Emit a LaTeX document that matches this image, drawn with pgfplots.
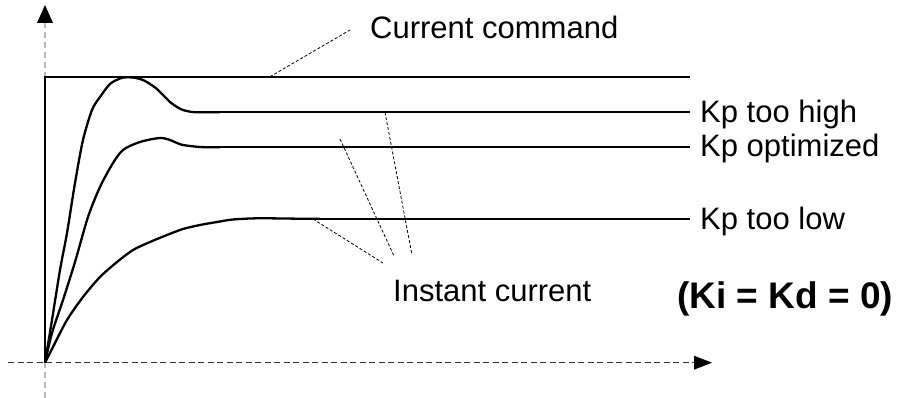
\documentclass[border=0pt]{standalone}
\usepackage{pgfplots}
\pgfplotsset{compat=1.18}
\usepackage{fontspec}
\setmainfont{Liberation Sans}
\begin{document}
\begin{tikzpicture}
\begin{axis}[
  width=901pt, height=398pt, scale only axis,
  xmin=0, xmax=901, ymin=0, ymax=398, y dir=reverse,
  hide axis, clip=false,
]
\coordinate (bl) at (axis cs:0,398);
\coordinate (tr) at (axis cs:901,0);
% axes
\draw[gray!55, line width=1.6pt, dash pattern=on 6pt off 4pt] (axis cs:45,398) -- (axis cs:45,22);
\fill[black] (axis cs:45,5) -- (axis cs:37,23) -- (axis cs:53,23) -- cycle;
\draw[black!80, line width=1.3pt, dash pattern=on 6pt off 3.5pt] (axis cs:8,362.7) -- (axis cs:695,362.7);
\fill[black] (axis cs:712,362.7) -- (axis cs:694,355.7) -- (axis cs:694,369.7) -- cycle;
% current command
\addplot[black, line width=2.3pt, line join=miter, no marks] coordinates {(45,362.7) (45,76.7) (690,76.7)};
% Kp too high
\addplot[black, line width=2.3pt, no marks, smooth, tension=0.5] coordinates {
(45,362.7) (52,320) (60,270) (67,233) (75,183) (83,140) (92,110) (100,97) (110,84)
(120,78.5) (127,77.3) (135,77.8) (143,80) (150,84) (157,89) (163,95) (170,102)
(177,107) (183,110) (192,112) (200,112.3) (220,112.3)};
\addplot[black, line width=2.3pt, no marks] coordinates {(220,112.3) (690,112.3)};
% Kp optimized
\addplot[black, line width=2.3pt, no marks, smooth, tension=0.5] coordinates {
(45,362.7) (52,333) (63,300) (75,262) (88,217) (100,187) (113,163) (123,150)
(137,143) (150,139.5) (160,138) (165,138.5) (170,140) (177,143) (183,145)
(200,147) (220,147.3)};
\addplot[black, line width=2.3pt, no marks] coordinates {(220,147.3) (690,147.3)};
% Kp too low
\addplot[black, line width=2.3pt, no marks, smooth, tension=0.5] coordinates {
(45,362.7) (53,347) (67,320) (83,297) (100,277) (117,262) (133,250) (150,242)
(167,235) (183,229) (200,225) (217,222) (233,219.5) (257,218.3) (283,218.5)
(300,218.7) (320,218.7)};
\addplot[black, line width=2.3pt, no marks] coordinates {(320,218.7) (690,218.7)};
% leaders
\begin{scope}[black, line width=0.8pt, dash pattern=on 3pt off 2pt]
\draw (axis cs:270,76.7) -- (axis cs:350,30);
\draw (axis cs:385,112.3) -- (axis cs:412,255);
\draw (axis cs:340,139) -- (axis cs:394,256);
\draw (axis cs:313,219) -- (axis cs:383,263);
\end{scope}
% labels
\begin{scope}[every node/.style={inner sep=0pt, anchor=base west, font=\fontsize{31}{36}\selectfont}]
\node at (axis cs:370,39) {Current command};
\node at (axis cs:700,123) {Kp too high};
\node at (axis cs:700,157) {Kp optimized};
\node at (axis cs:700,229) {Kp too low};
\node at (axis cs:393,301) {Instant current};
\end{scope}
\node[inner sep=0pt, anchor=base west, font=\fontsize{37}{42}\selectfont\bfseries] at (axis cs:677,308) {(Ki = Kd = 0)};
\end{axis}
\pgfresetboundingbox
\path[use as bounding box] (bl) rectangle (tr);
\end{tikzpicture}
\end{document}
